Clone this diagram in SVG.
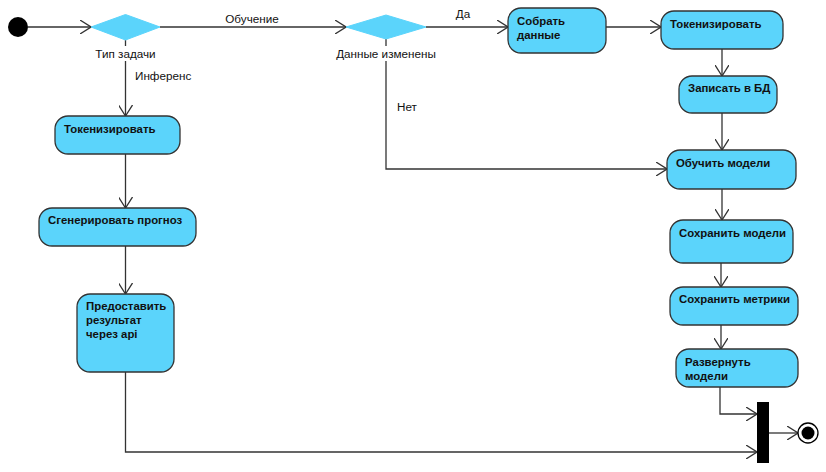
<svg xmlns="http://www.w3.org/2000/svg" width="826" height="472" viewBox="0 0 826 472">
<style>
.act{fill:#5BD4FB;stroke:#333;stroke-width:1.3}
.dec{fill:#5BD4FB;stroke:#5BD4FB;stroke-width:1}
.lbl{font-family:"Liberation Sans",Arial,sans-serif;font-size:11.7px;fill:#111}
.nm{font-family:"Liberation Sans",Arial,sans-serif;font-size:11.4px;font-weight:bold;fill:#111}
.ln{fill:none;stroke:#333;stroke-width:1.3}
</style>
<defs>
<marker id="ah" viewBox="0 0 12 14" refX="11" refY="7" markerWidth="12" markerHeight="14" markerUnits="userSpaceOnUse" orient="auto">
<path d="M0,0 L11,7 L0,14" fill="none" stroke="#333" stroke-width="1.3"/>
</marker>
</defs>
<rect width="826" height="472" fill="#fff"/>
<g id="connectors">
<path class="ln" d="M28,27 H91" marker-end="url(#ah)"/>
<path class="ln" d="M160,27 H346" marker-end="url(#ah)"/>
<path class="ln" d="M426,27 H508" marker-end="url(#ah)"/>
<path class="ln" d="M606,27 H661" marker-end="url(#ah)"/>
<path class="ln" d="M722,49 V76" marker-end="url(#ah)"/>
<path class="ln" d="M722,113 V150" marker-end="url(#ah)"/>
<path class="ln" d="M386,39 V46 M386,61 V169 H667" marker-end="url(#ah)"/>
<path class="ln" d="M722,189 V220" marker-end="url(#ah)"/>
<path class="ln" d="M721,263 V287" marker-end="url(#ah)"/>
<path class="ln" d="M721,325 V349" marker-end="url(#ah)"/>
<path class="ln" d="M720,387 V414 H757" marker-end="url(#ah)"/>
<path class="ln" d="M769,433 H798" marker-end="url(#ah)"/>
<path class="ln" d="M125.5,40 V46 M125.5,61 V116" marker-end="url(#ah)"/>
<path class="ln" d="M125.5,154 V208" marker-end="url(#ah)"/>
<path class="ln" d="M125.5,246 V294" marker-end="url(#ah)"/>
<path class="ln" d="M125.5,372 V452 H757" marker-end="url(#ah)"/>
<text class="lbl" x="252" y="23" text-anchor="middle">Обучение</text>
<text class="lbl" x="135" y="80">Инференс</text>
<text class="lbl" x="463" y="18" text-anchor="middle">Да</text>
<text class="lbl" x="397" y="111">Нет</text>
</g>
<g id="start"><circle cx="18" cy="27" r="10" fill="#000"/></g>
<g id="dec1">
<polygon class="dec" points="91,27 125.5,14.5 160,27 125.5,40"/>
<text class="lbl" x="125.5" y="58" text-anchor="middle">Тип задачи</text>
</g>
<g id="dec2">
<polygon class="dec" points="346,27 386,15 426,27 386,39"/>
<text class="lbl" x="386" y="58" text-anchor="middle">Данные изменены</text>
</g>
<g id="collect">
<rect class="act" x="508" y="8" width="98" height="45" rx="13"/>
<text class="nm" x="517" y="25">Собрать</text>
<text class="nm" x="517" y="39">данные</text>
</g>
<g id="tokenize2">
<rect class="act" x="661" y="11" width="122" height="38" rx="13"/>
<text class="nm" x="670" y="28">Токенизировать</text>
</g>
<g id="writedb">
<rect class="act" x="679" y="76" width="98" height="37" rx="13"/>
<text class="nm" x="688" y="92">Записать в БД</text>
</g>
<g id="train">
<rect class="act" x="667" y="150" width="129" height="39" rx="13"/>
<text class="nm" x="676" y="167">Обучить модели</text>
</g>
<g id="savemodels">
<rect class="act" x="670" y="220" width="123" height="43" rx="13"/>
<text class="nm" x="679" y="237">Сохранить модели</text>
</g>
<g id="savemetrics">
<rect class="act" x="670" y="287" width="128" height="38" rx="13"/>
<text class="nm" x="679" y="303">Сохранить метрики</text>
</g>
<g id="deploy">
<rect class="act" x="676" y="349" width="122" height="38" rx="13"/>
<text class="nm" x="685" y="366">Развернуть</text>
<text class="nm" x="685" y="380">модели</text>
</g>
<g id="tokenize1">
<rect class="act" x="55" y="116" width="125" height="38" rx="13"/>
<text class="nm" x="64" y="133">Токенизировать</text>
</g>
<g id="predict">
<rect class="act" x="39" y="208" width="157" height="38" rx="13"/>
<text class="nm" x="48" y="224">Сгенерировать прогноз</text>
</g>
<g id="provide">
<rect class="act" x="77" y="294" width="97" height="78" rx="13"/>
<text class="nm" x="86" y="310">Предоставить</text>
<text class="nm" x="86" y="324">результат</text>
<text class="nm" x="86" y="338">через api</text>
</g>
<g id="join"><rect x="757" y="402" width="12" height="61" fill="#000"/></g>
<g id="end">
<circle cx="808" cy="433" r="10" fill="#fff" stroke="#000" stroke-width="1.3"/>
<circle cx="808" cy="433" r="6.5" fill="#000"/>
</g>
</svg>
